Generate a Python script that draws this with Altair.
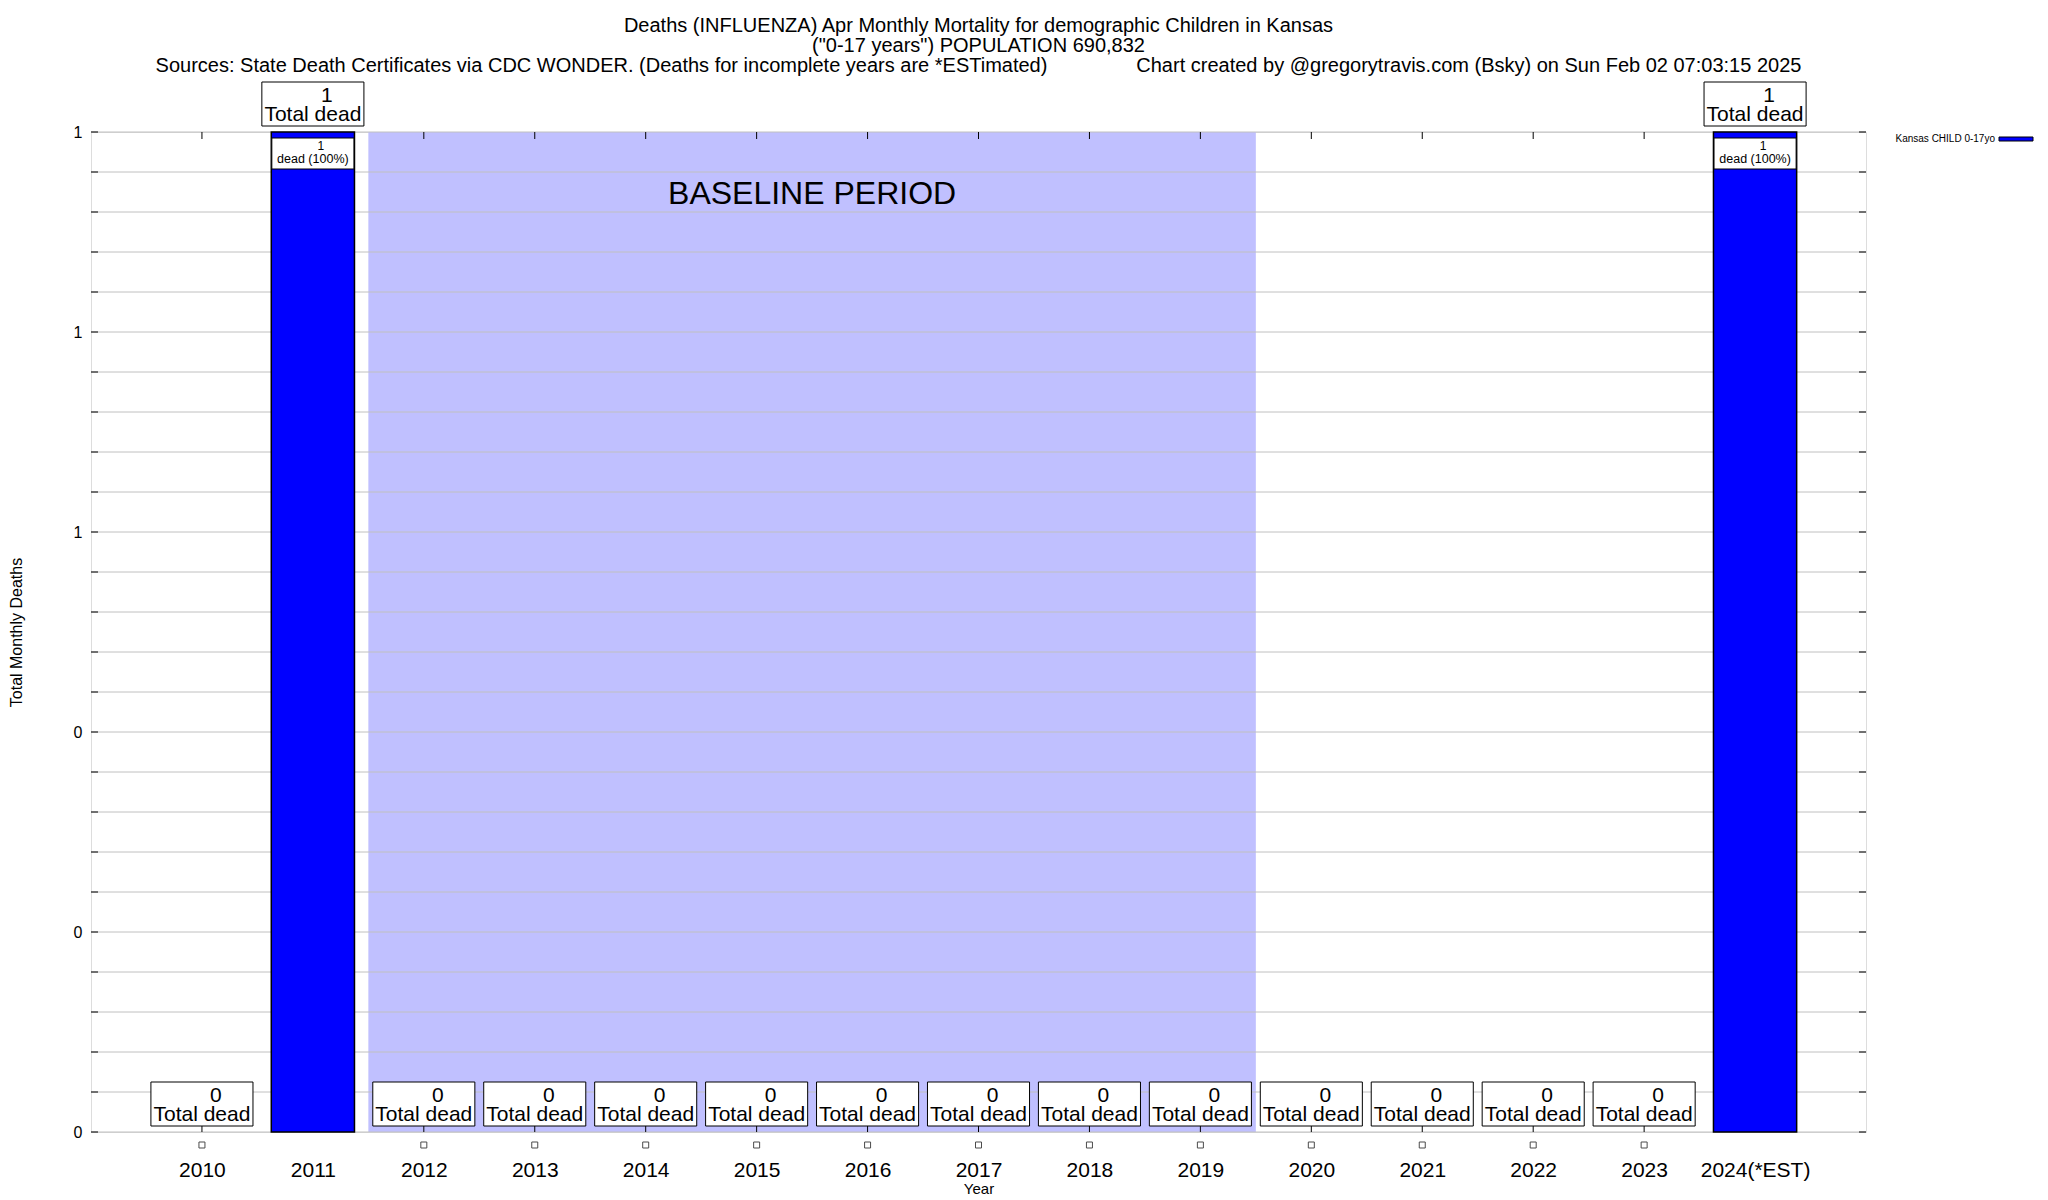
import altair as alt
import pandas as pd

# ---------------- data ----------------
years = [2010, 2011, 2012, 2013, 2014, 2015, 2016, 2017, 2018, 2019, 2020, 2021, 2022, 2023, 2024]
year_labels = ["2010", "2011", "2012", "2013", "2014", "2015", "2016", "2017", "2018", "2019",
               "2020", "2021", "2022", "2023", "2024(*EST)"]
deaths = [0, 1, 0, 0, 0, 0, 0, 0, 0, 0, 0, 0, 0, 0, 1]
pct_dead = [0, 100, 0, 0, 0, 0, 0, 0, 0, 0, 0, 0, 0, 0, 100]
series_name = "Kansas CHILD 0-17yo"
baseline_start = 2012
baseline_end = 2019
baseline_text = "BASELINE PERIOD"
grid_values = [0.0, 0.04, 0.08, 0.12, 0.16, 0.2, 0.24, 0.28, 0.32, 0.36, 0.4, 0.44, 0.48,
               0.52, 0.56, 0.6, 0.64, 0.68, 0.72, 0.76, 0.8, 0.84, 0.88, 0.92, 0.96, 1.0]
label_values = [0.0, 0.2, 0.4, 0.6, 0.8, 1.0]
title_lines = [
    "Deaths (INFLUENZA) Apr Monthly Mortality for demographic Children in Kansas",
    "(\"0-17 years\") POPULATION 690,832",
    "Sources: State Death Certificates via CDC WONDER. (Deaths for incomplete years are *ESTimated)"
    + "\u00a0" * 16
    + "Chart created by @gregorytravis.com (Bsky) on Sun Feb 02 07:03:15 2025",
]

FONT = "Liberation Sans"
W, H = 1775, 1000

df = pd.DataFrame({"year": years, "label": year_labels, "deaths": deaths, "pct": pct_dead})
grid_df = pd.DataFrame({"v": grid_values})
base_df = pd.DataFrame({"start": [baseline_start], "end": [baseline_end], "name": [baseline_text]})
legend_df = pd.DataFrame({"name": [series_name]})

xscale = alt.Scale(domain=[2009, 2025], nice=False, zero=False)
yscale = alt.Scale(domain=[0, 1], nice=False, zero=True)

label_expr = ""
for y, l in zip(years, year_labels):
    label_expr += f"datum.value == {y} ? '{l}' : "
label_expr += "''"

xaxis = alt.Axis(values=years, labelExpr=label_expr, grid=False, ticks=False, tickSize=0,
                 domain=False, labelFontSize=21, labelFont=FONT, labelColor="black",
                 labelBaseline="alphabetic", labelPadding=44, labelAngle=0,
                 title="Year", titleFontSize=15, titleFontWeight="normal", titleFont=FONT,
                 titleColor="black", titleY=56, titleBaseline="middle")
yaxis = alt.Axis(values=label_values, labelExpr="'' + round(datum.value)", grid=False,
                 ticks=False, tickSize=0, domain=False, labelFontSize=16, labelFont=FONT,
                 labelColor="black", labelPadding=9, labelBaseline="middle",
                 title="Total Monthly Deaths", titleFontSize=16, titleFontWeight="normal",
                 titleFont=FONT, titleColor="black", titleX=-75, titleY=500,
                 titleAngle=270, titleAlign="center", titleBaseline="middle")


def X(field):
    return alt.X(field, scale=xscale, axis=xaxis)


def Y(field):
    return alt.Y(field, scale=yscale, axis=yaxis)


# baseline shading
shade = alt.Chart(base_df).transform_calculate(
    x0="datum.start - 0.5", x1="datum.end + 0.5"
).mark_rect(color="#c0c0ff").encode(
    x=X("x0:Q"), x2="x1:Q",
    y=alt.value(0), y2=alt.value(H),
)

shade_text = alt.Chart(base_df).transform_calculate(
    xm="(datum.start + datum.end) / 2", top="1"
).mark_text(fontSize=32, font=FONT, color="black", baseline="alphabetic", dy=72).encode(
    x=X("xm:Q"), y=Y("top:Q"), text="name:N",
)

grid = alt.Chart(grid_df).mark_rule(color="#c0c0c0", strokeWidth=1).encode(
    y=Y("v:Q"), x=alt.value(0), x2=alt.value(W),
)

ytick_l = alt.Chart(grid_df).mark_rule(color="black", strokeWidth=1).encode(
    y=Y("v:Q"), x=alt.value(0), x2=alt.value(7))
ytick_r = alt.Chart(grid_df).mark_rule(color="black", strokeWidth=1).encode(
    y=Y("v:Q"), x=alt.value(W - 7), x2=alt.value(W))
xtick_b = alt.Chart(df).mark_rule(color="black", strokeWidth=1).encode(
    x=X("year:Q"), y=alt.value(H), y2=alt.value(H - 7))
xtick_t = alt.Chart(df).mark_rule(color="black", strokeWidth=1).encode(
    x=X("year:Q"), y=alt.value(0), y2=alt.value(7))

bars = alt.Chart(df).transform_filter("datum.deaths > 0").transform_calculate(
    x0="datum.year - 0.375", x1="datum.year + 0.375"
).mark_rect(color="#0000ff", stroke="black", strokeWidth=1.5).encode(
    x=X("x0:Q"), x2="x1:Q", y=Y("deaths:Q"), y2=alt.datum(0),
)

boxes = alt.Chart(df).transform_calculate(
    x0="datum.year - 0.46", x1="datum.year + 0.46"
).mark_rect(fill="white", stroke="black", strokeWidth=1, yOffset=-50, y2Offset=-6).encode(
    x=X("x0:Q"), x2="x1:Q", y=Y("deaths:Q"), y2="deaths:Q",
)

box_num = alt.Chart(df).mark_text(fontSize=21, font=FONT, color="black",
                                  baseline="alphabetic", dx=14, dy=-30).encode(
    x=X("year:Q"), y=Y("deaths:Q"), text="deaths:Q",
)
box_txt = alt.Chart(df).transform_calculate(t="'Total dead'").mark_text(
    fontSize=21, font=FONT, color="black", baseline="alphabetic", dy=-11).encode(
    x=X("year:Q"), y=Y("deaths:Q"), text="t:N",
)

inner = alt.Chart(df).transform_filter("datum.deaths > 0").transform_calculate(
    x0="datum.year - 0.37", x1="datum.year + 0.37"
).mark_rect(fill="white", stroke="black", strokeWidth=1, yOffset=6, y2Offset=37).encode(
    x=X("x0:Q"), x2="x1:Q", y=Y("deaths:Q"), y2="deaths:Q",
)
inner_num = alt.Chart(df).transform_filter("datum.deaths > 0").mark_text(
    fontSize=12, font=FONT, color="black", baseline="alphabetic", dx=8, dy=18).encode(
    x=X("year:Q"), y=Y("deaths:Q"), text="deaths:Q",
)
inner_txt = alt.Chart(df).transform_filter("datum.deaths > 0").transform_calculate(
    t="'dead (' + datum.pct + '%)'").mark_text(
    fontSize=12.5, font=FONT, color="black", baseline="alphabetic", dy=31).encode(
    x=X("year:Q"), y=Y("deaths:Q"), text="t:N",
)

squares = alt.Chart(df).transform_filter("datum.deaths == 0").mark_point(
    shape="square", size=36, filled=False, color="black", strokeWidth=1, yOffset=13).encode(
    x=X("year:Q"), y=Y("deaths:Q"),
)

legend_text = alt.Chart(legend_df).mark_text(fontSize=10, font=FONT, color="black",
                                             align="right", baseline="middle").encode(
    x=alt.value(W + 129), y=alt.value(7), text="name:N")
legend_sw = alt.Chart(legend_df).mark_rect(fill="#0000ff", stroke="black", strokeWidth=1).encode(
    x=alt.value(W + 133), x2=alt.value(W + 167), y=alt.value(5), y2=alt.value(9))

chart = alt.layer(
    shade, grid, ytick_l, ytick_r, xtick_b, xtick_t, shade_text, bars, boxes, box_num, box_txt,
    inner, inner_num, inner_txt, squares, legend_text, legend_sw
).properties(
    width=W, height=H,
    title=alt.TitleParams(text=title_lines, fontSize=20, font=FONT, fontWeight="normal",
                          color="black", anchor="middle", frame="group", lineHeight=20,
                          offset=6),
    padding={"left": 83, "top": 124, "right": 174, "bottom": 76},
    autosize=alt.AutoSizeParams(type="none"),
).configure_view(stroke="black", strokeWidth=1.5).configure(font=FONT)

chart.save("out.html", embed_options={"renderer": "svg", "actions": False})
